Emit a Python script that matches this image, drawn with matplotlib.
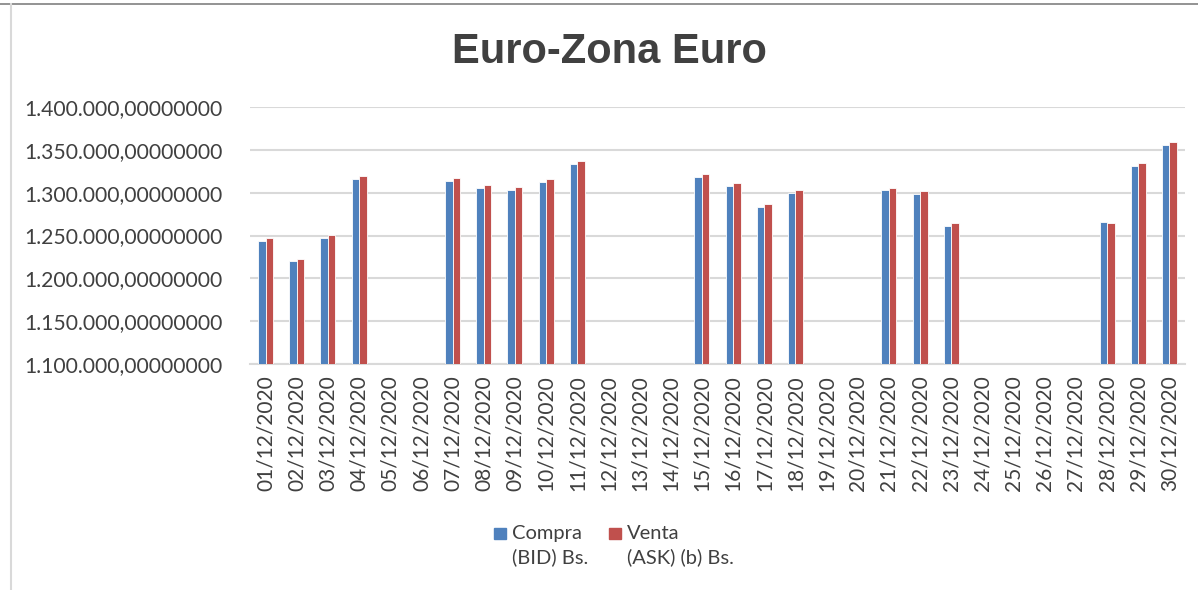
import numpy as np
import matplotlib.pyplot as plt
from matplotlib.lines import Line2D
from matplotlib.patches import Rectangle
from matplotlib.ticker import FuncFormatter

# data (NaN = no quote that day)
dates = ["%02d/12/2020" % d for d in range(1, 31)]
compra = [1243800, 1219700, 1247000, 1315500, np.nan, np.nan, 1313900, 1305700,
          1303000, 1312800, 1333800, np.nan, np.nan, np.nan, 1317800, 1307700,
          1283500, 1299500, np.nan, np.nan, 1302700, 1298000, 1260600, np.nan,
          np.nan, np.nan, np.nan, 1265300, 1330700, 1355600]
venta = [1246900, 1222400, 1250100, 1319000, np.nan, np.nan, 1316700, 1308900,
         1306200, 1315900, 1336900, np.nan, np.nan, np.nan, 1321300, 1311200,
         1287000, 1303000, np.nan, np.nan, 1305700, 1301500, 1264100, np.nan,
         np.nan, np.nan, np.nan, 1264100, 1334200, 1359100]
series_names = ["Compra\n(BID) Bs.", "Venta\n(ASK) (b) Bs."]
colors = ["#4F81BD", "#C0504D"]

txt = "#404040"
fig = plt.figure(figsize=(11.98, 5.9), dpi=100)
ax = fig.add_axes([0.2087, 0.383, 0.7805, 0.4356])

x = np.arange(len(dates))
w = 0.24
ax.bar(x - w / 2, compra, w, color=colors[0], edgecolor="white", linewidth=0.6, zorder=3)
ax.bar(x + w / 2, venta, w, color=colors[1], edgecolor="white", linewidth=0.6, zorder=3)

ax.set_ylim(1100000, 1400000)
ax.set_xlim(-0.5, len(dates) - 0.5)
ax.set_yticks(np.arange(1100000, 1400001, 50000))
ax.yaxis.set_major_formatter(FuncFormatter(
    lambda v, p: "{:,.8f}".format(v).replace(",", "X").replace(".", ",").replace("X", ".")))
ax.set_xticks(x)
ax.set_xticklabels(dates, rotation=90)
ax.grid(axis="y", color="#D9D9D9", linewidth=1.5, zorder=0)
for s in ["top", "right", "left"]:
    ax.spines[s].set_visible(False)
ax.spines["bottom"].set_color("#D9D9D9")
ax.spines["bottom"].set_linewidth(1.5)
ax.tick_params(axis="x", length=0, labelsize=15, labelcolor=txt, pad=8)
ax.tick_params(axis="y", length=0, labelsize=15.2, labelcolor=txt, pad=20)
for lab in ax.get_xticklabels() + ax.get_yticklabels():
    lab.set_family("Lato")

fig.text(0.509, 0.912, "Euro-Zona Euro", ha="center", va="center", fontsize=30,
         fontweight="bold", color=txt, family="Liberation Sans")

# legend: small square next to the first line of a two-line label
leg_x = [0.4124, 0.5083]
for lx, name, c in zip(leg_x, series_names, colors):
    fig.add_artist(Rectangle((lx, 0.0864), 0.010, 0.0186, color=c,
                             transform=fig.transFigure))
    fig.text(lx + 0.015, 0.111, name, ha="left", va="top", fontsize=14.5,
             color=txt, family="Lato", linespacing=1.42)

# frame lines of the original screenshot
fig.add_artist(Line2D([0, 1], [0.994, 0.994], color="#808080", linewidth=1.2))
fig.add_artist(Line2D([0.009, 0.009], [0, 0.994], color="#D9D9D9", linewidth=1.5))

fig.savefig("out.png", dpi=100, facecolor="white")
